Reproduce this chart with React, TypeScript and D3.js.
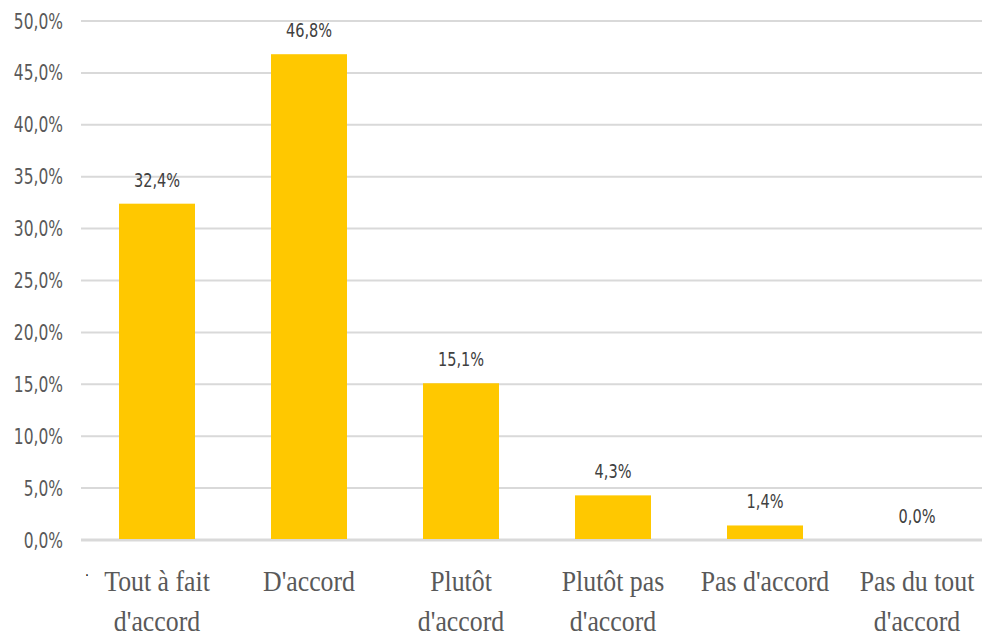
import { useMemo } from "react";
import * as d3 from "d3";

const CATEGORIES = [
  ["Tout à fait", "d'accord"],
  ["D'accord"],
  ["Plutôt", "d'accord"],
  ["Plutôt pas", "d'accord"],
  ["Pas d'accord"],
  ["Pas du tout", "d'accord"],
];
const VALUES = [32.4, 46.8, 15.1, 4.3, 1.4, 0.0];
const TICKS = [0, 5, 10, 15, 20, 25, 30, 35, 40, 45, 50];

const fmt = (v: number) => `${v.toFixed(1).replace(".", ",")}%`;

const sans = "'Liberation Sans Narrow', 'DejaVu Sans Condensed', 'Liberation Sans', sans-serif";
const serif = "'Liberation Serif', 'DejaVu Serif', serif";

// narrow text: draw at origin, squeeze horizontally
function Narrow(props: {
  x: number;
  y: number;
  sx: number;
  anchor: "start" | "middle" | "end";
  size: number;
  family: string;
  fill: string;
  children: string;
  dy?: string;
}) {
  return (
    <g transform={`translate(${props.x},${props.y}) scale(${props.sx},1)`}>
      <text
        x={0}
        y={0}
        dy={props.dy}
        textAnchor={props.anchor}
        fontFamily={props.family}
        fontSize={props.size}
        fill={props.fill}
      >
        {props.children}
      </text>
    </g>
  );
}

export default function App() {
  const width = 982;
  const height = 639;
  const margin = { top: 21, bottom: 99, left: 81 };
  const plotRight = 993;

  const x = useMemo(
    () =>
      d3
        .scaleBand<number>()
        .domain(d3.range(VALUES.length))
        .range([margin.left, plotRight])
        .paddingInner(0.5)
        .paddingOuter(0.25),
    []
  );
  const y = useMemo(
    () => d3.scaleLinear().domain([0, 50]).range([height - margin.bottom, margin.top]),
    []
  );

  return (
    <svg
      width={width}
      height={height}
      style={{ position: "absolute", left: 0, top: 0, background: "#fff" }}
    >
      {TICKS.map((t) => (
        <g key={t}>
          <line
            x1={margin.left}
            x2={width}
            y1={y(t)}
            y2={y(t)}
            stroke="#d9d9d9"
            strokeWidth={t === 0 ? 3 : 2}
          />
          <Narrow
            x={63}
            y={y(t)}
            dy="0.36em"
            sx={0.82}
            anchor="end"
            family={sans}
            size={21}
            fill="#595959"
          >
            {fmt(t)}
          </Narrow>
        </g>
      ))}

      {VALUES.map((v, i) => {
        const bx = x(i) ?? 0;
        const cx = bx + x.bandwidth() / 2;
        return (
          <g key={i}>
            {v > 0 && (
              <rect
                x={bx}
                y={y(v)}
                width={x.bandwidth()}
                height={y(0) - y(v) - 1}
                fill="#ffc800"
              />
            )}
            <Narrow
              x={cx}
              y={y(v) - 17}
              sx={0.85}
              anchor="middle"
              family={sans}
              size={19}
              fill="#404040"
            >
              {fmt(v)}
            </Narrow>
            {CATEGORIES[i].map((line, j) => (
              <Narrow
                key={j}
                x={cx}
                y={y(0) + 51 + j * 40}
                sx={0.86}
                anchor="middle"
                family={serif}
                size={30}
                fill="#595959"
              >
                {line}
              </Narrow>
            ))}
          </g>
        );
      })}
      <text x={85} y={580} fontFamily={sans} fontSize={14} fill="#000">
        ·
      </text>
    </svg>
  );
}
